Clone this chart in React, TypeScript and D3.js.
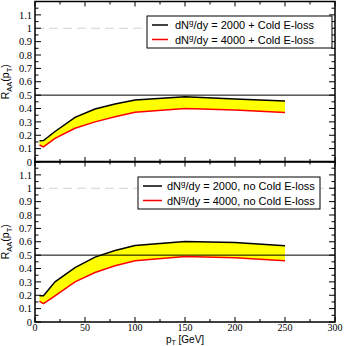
import React, { useEffect, useRef } from "react";
import * as d3 from "d3";

// pT grid [GeV] shared by all curves
const pt = [4.5, 8.5, 20, 40, 60, 80, 100, 150, 200, 250];

// upper panel: with cold-nuclear-matter energy loss
const coldLow = [0.159, 0.16, 0.228, 0.334, 0.396, 0.434, 0.464, 0.488, 0.471, 0.456];
const coldHigh = [0.127, 0.113, 0.177, 0.252, 0.3, 0.339, 0.372, 0.4, 0.389, 0.371];

// lower panel: without cold energy loss
const noColdLow = [0.197, 0.197, 0.3, 0.407, 0.485, 0.535, 0.572, 0.602, 0.595, 0.57];
const noColdHigh = [0.154, 0.138, 0.196, 0.3, 0.37, 0.42, 0.458, 0.49, 0.48, 0.458];

const yTicks = [0, 0.1, 0.2, 0.3, 0.4, 0.5, 0.6, 0.7, 0.8, 0.9, 1, 1.1];
const xTicks = [0, 50, 100, 150, 200, 250, 300];

const legendTop = ["2000 + Cold E-loss", "4000 + Cold E-loss"];
const legendBottom = ["2000, no Cold E-loss", "4000, no Cold E-loss"];

const App = () => {
  const svgRef = useRef(null);

  useEffect(() => {
    const svg = d3.select(svgRef.current);
    svg.selectAll("*").remove();

    const x = d3.scaleLinear().domain([0, 300]).range([35, 335]);

    const panels = [
      { y: d3.scaleLinear().domain([0, 1.2]).range([162, 1.5]), lo: coldLow, hi: coldHigh,
        legend: legendTop, box: [147, 16, 185, 32], line: [152, 168], text: 175, xLabels: false },
      { y: d3.scaleLinear().domain([0, 1.2]).range([322, 161.5]), lo: noColdLow, hi: noColdHigh,
        legend: legendBottom, box: [138, 177, 182, 32], line: [143, 162], text: 167, xLabels: true },
    ];

    panels.forEach((p) => {
      const g = svg.append("g");
      const y = p.y;
      const [x0, x1] = x.range();
      const [yb, yt] = y.range();

      // yellow band between the two curves
      const area = d3.area<number>()
        .x((d, i) => x(pt[i]))
        .y0((d, i) => y(p.hi[i]))
        .y1((d, i) => y(p.lo[i]));
      g.append("path").attr("d", area(pt)).attr("fill", "#ffff00");

      // reference lines
      g.append("line").attr("x1", x0).attr("x2", x1)
        .attr("y1", y(1)).attr("y2", y(1))
        .attr("stroke", "#d4d4d4").attr("stroke-width", 1).attr("stroke-dasharray", "9,5");
      g.append("line").attr("x1", x0).attr("x2", x1)
        .attr("y1", y(0.5)).attr("y2", y(0.5))
        .attr("stroke", "black").attr("stroke-width", 1);

      const line = (vals) => d3.line<number>().x((d, i) => x(pt[i])).y((d) => y(d))(vals);
      g.append("path").attr("d", line(p.lo)).attr("fill", "none")
        .attr("stroke", "black").attr("stroke-width", 1.5);
      g.append("path").attr("d", line(p.hi)).attr("fill", "none")
        .attr("stroke", "#ff0000").attr("stroke-width", 1.5);

      // ticks, inward on all four sides
      const ticks = g.append("g").attr("stroke", "black").attr("stroke-width", 1);
      d3.range(0, 301, 25).forEach((v) => {
        const len = v % 50 === 0 ? 5 : 3;
        ticks.append("line").attr("x1", x(v)).attr("x2", x(v)).attr("y1", yb).attr("y2", yb - len);
        ticks.append("line").attr("x1", x(v)).attr("x2", x(v)).attr("y1", yt).attr("y2", yt + len);
      });
      d3.range(0, 25).forEach((k) => {
        const v = k * 0.05;
        const len = k % 2 === 0 ? 6 : 3.5;
        ticks.append("line").attr("x1", x0).attr("x2", x0 + len).attr("y1", y(v)).attr("y2", y(v));
        ticks.append("line").attr("x1", x1).attr("x2", x1 - len).attr("y1", y(v)).attr("y2", y(v));
      });

      // frame
      g.append("rect").attr("x", x0).attr("y", yt).attr("width", x1 - x0).attr("height", yb - yt)
        .attr("fill", "none").attr("stroke", "black").attr("stroke-width", 1.5);

      // y tick labels
      g.selectAll(".ylab").data(yTicks).join("text")
        .attr("x", 32).attr("y", (d) => y(d)).attr("dy", "0.35em")
        .attr("text-anchor", "end")
        .style("font-family", "'Liberation Serif', serif").style("font-size", "10.5px")
        .text((d) => String(d));

      if (p.xLabels) {
        g.selectAll(".xlab").data(xTicks).join("text")
          .attr("x", (d) => x(d)).attr("y", 331).attr("text-anchor", "middle")
          .style("font-family", "'Liberation Serif', serif").style("font-size", "10px")
          .text((d) => String(d));
      }

      // y-axis title
      const ty = g.append("text")
        .attr("transform", `translate(9,${(yb + yt) / 2}) rotate(-90)`)
        .attr("text-anchor", "middle")
        .style("font-family", "'Liberation Sans', sans-serif").style("font-size", "10.5px");
      ty.append("tspan").text("R");
      ty.append("tspan").attr("dy", 3).style("font-size", "7.5px").text("AA");
      ty.append("tspan").attr("dy", -3).text("(p");
      ty.append("tspan").attr("dy", 3).style("font-size", "7.5px").text("T");
      ty.append("tspan").attr("dy", -3).text(")");

      // legend
      const [bx, by, bw, bh] = p.box;
      g.append("rect").attr("x", bx).attr("y", by).attr("width", bw).attr("height", bh)
        .attr("fill", "white").attr("stroke", "black").attr("stroke-width", 1);
      p.legend.forEach((label, i) => {
        const ly = by + 9 + i * 14.5;
        g.append("line").attr("x1", p.line[0]).attr("x2", p.line[1]).attr("y1", ly).attr("y2", ly)
          .attr("stroke", i === 0 ? "black" : "#ff0000").attr("stroke-width", 1.5);
        const t = g.append("text").attr("x", p.text).attr("y", ly + 4)
          .style("font-family", "'Liberation Sans', sans-serif").style("font-size", "11px");
        t.append("tspan").text("dN");
        t.append("tspan").attr("dy", -4).style("font-size", "8px").text("g");
        t.append("tspan").attr("dy", 4).text(`/dy = ${label}`);
      });
    });

    // x-axis title
    const tx = svg.append("text").attr("x", 185).attr("y", 342.5).attr("text-anchor", "middle")
      .style("font-family", "'Liberation Sans', sans-serif").style("font-size", "10px");
    tx.append("tspan").text("p");
    tx.append("tspan").attr("dy", 2.5).style("font-size", "7px").text("T");
    tx.append("tspan").attr("dy", -2.5).text(" [GeV]");
  }, []);

  return (
    <svg ref={svgRef} width={346} height={346}
      style={{ position: "absolute", left: 0, top: 0, background: "white" }} />
  );
};

export default App;
